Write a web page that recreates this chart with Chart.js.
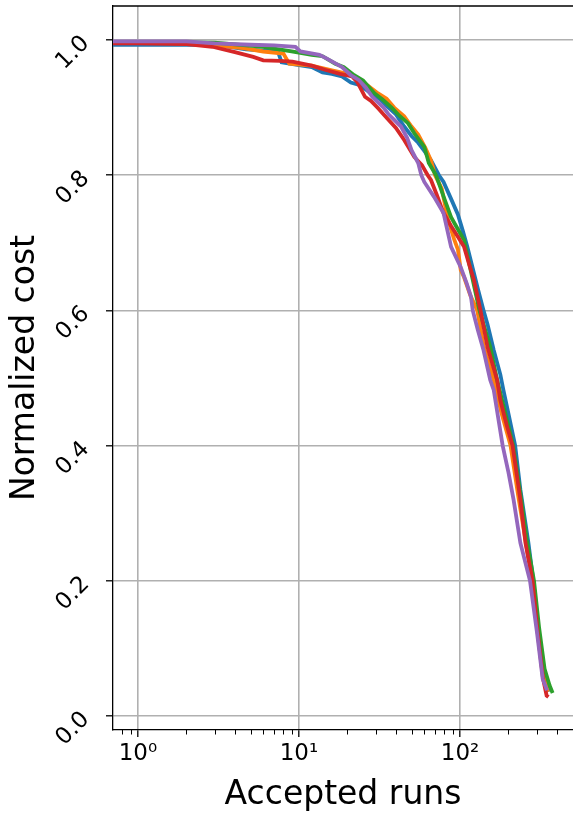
<!DOCTYPE html>
<html>
<head>
<meta charset="utf-8">
<script src="https://cdn.jsdelivr.net/npm/chart.js@4.4.1/dist/chart.umd.min.js"></script>
<style>
  html, body { margin: 0; padding: 0; background: #fff; overflow: hidden; }
  #wrap { width: 573px; height: 815px; position: relative; }
</style>
</head>
<body>
<div id="wrap"><canvas id="costChart"></canvas></div>
<script>
// Datos (eje x logarítmico: ejecuciones aceptadas)
const blueRuns   = [0.5, 1, 3, 4.7, 7.4, 7.8, 10, 12, 14, 16, 18.5, 21, 24, 28, 32, 36, 40, 45, 50, 55, 60, 66, 74, 79, 88, 97, 104, 111, 120, 129, 140, 148, 162, 178, 186, 200, 220, 237, 266, 285, 305, 330, 355];
const blueCost   = [0.993, 0.993, 0.993, 0.986, 0.983, 0.967, 0.963, 0.960, 0.952, 0.950, 0.946, 0.937, 0.933, 0.921, 0.912, 0.900, 0.890, 0.872, 0.858, 0.848, 0.836, 0.822, 0.800, 0.790, 0.765, 0.742, 0.718, 0.694, 0.662, 0.632, 0.600, 0.580, 0.541, 0.505, 0.482, 0.447, 0.400, 0.335, 0.256, 0.200, 0.130, 0.065, 0.036];

const orangeRuns = [0.5, 1, 2, 3, 4.5, 6, 8, 8.7, 12, 16, 20, 23.5, 27, 31, 35, 39, 45, 50, 55, 61, 66, 70, 77, 84, 92, 97, 101, 106, 116, 128, 140, 162, 180, 206, 230, 255, 280, 300, 325, 352];
const orangeCost = [0.996, 0.996, 0.995, 0.992, 0.988, 0.983, 0.980, 0.965, 0.962, 0.955, 0.950, 0.941, 0.932, 0.921, 0.913, 0.900, 0.887, 0.872, 0.860, 0.840, 0.822, 0.800, 0.780, 0.735, 0.705, 0.690, 0.660, 0.649, 0.622, 0.600, 0.548, 0.497, 0.450, 0.400, 0.325, 0.260, 0.200, 0.140, 0.065, 0.036];

const greenRuns  = [0.5, 1, 3, 6, 9, 12, 14, 16.8, 19, 22, 25, 29.5, 33, 37.6, 42, 47.5, 52, 60, 64, 71, 80, 88, 97, 106, 115, 129, 132, 154, 170, 190, 214, 240, 260, 288, 310, 335, 360, 376];
const greenCost  = [0.997, 0.997, 0.996, 0.990, 0.983, 0.978, 0.976, 0.965, 0.960, 0.948, 0.940, 0.921, 0.912, 0.900, 0.888, 0.877, 0.862, 0.842, 0.818, 0.800, 0.765, 0.738, 0.720, 0.704, 0.665, 0.611, 0.600, 0.546, 0.497, 0.450, 0.400, 0.320, 0.260, 0.200, 0.130, 0.070, 0.045, 0.034];

const redRuns    = [0.5, 1, 2, 2.9, 4, 5.2, 6, 7.6, 9.1, 12, 14.5, 18, 21.4, 23, 25.7, 28, 31, 35, 40, 45, 52, 58, 63, 66, 72, 79, 88, 97, 106, 114, 122, 134, 148, 170, 178, 195, 212, 237, 255, 282, 303, 328, 345, 354];
const redCost    = [0.995, 0.995, 0.994, 0.990, 0.982, 0.975, 0.970, 0.969, 0.968, 0.962, 0.956, 0.950, 0.946, 0.938, 0.916, 0.910, 0.899, 0.885, 0.870, 0.852, 0.827, 0.815, 0.800, 0.793, 0.770, 0.744, 0.725, 0.709, 0.694, 0.668, 0.645, 0.600, 0.546, 0.497, 0.467, 0.430, 0.400, 0.320, 0.256, 0.200, 0.125, 0.055, 0.030, 0.028];

const purpleRuns = [0.5, 1, 2, 3, 5, 7, 9.5, 10.2, 13.4, 15, 18.5, 21, 23.5, 26, 28.5, 33.5, 36, 43, 47, 50, 55, 57.5, 60, 69, 79, 88, 101, 110, 117, 120, 129, 140, 154, 162, 184, 200, 215, 237, 272, 300, 326, 347];
const purpleCost = [0.998, 0.998, 0.998, 0.995, 0.993, 0.992, 0.990, 0.983, 0.978, 0.972, 0.960, 0.948, 0.941, 0.930, 0.916, 0.900, 0.890, 0.872, 0.855, 0.837, 0.818, 0.800, 0.790, 0.768, 0.744, 0.694, 0.664, 0.640, 0.620, 0.600, 0.571, 0.541, 0.497, 0.482, 0.400, 0.360, 0.320, 0.256, 0.200, 0.125, 0.055, 0.038];

const xMajorTicks = [1, 10, 100];
const xTickLabels = ['10⁰', '10¹', '10²'];
const xMinorTicks = [0.8, 0.9, 2, 3, 4, 5, 6, 7, 8, 9, 20, 30, 40, 50, 60, 70, 80, 90, 200, 300, 400, 500];
const yTicks = [0, 0.2, 0.4, 0.6, 0.8, 1.0];

const FONT = 'DejaVu Sans';

function toPoints(runs, cost) {
    return runs.map((r, i) => ({ x: r, y: cost[i] }));
}

// Marco superior y marcas menores del eje x
const framePlugin = {
    id: 'frame',
    afterDraw(chart) {
        const ctx = chart.ctx;
        const area = chart.chartArea;
        const xScale = chart.scales.x;
        ctx.save();
        ctx.strokeStyle = '#000';
        ctx.lineWidth = 1.3;
        ctx.beginPath();
        ctx.moveTo(area.left, area.top);
        ctx.lineTo(area.right + 2, area.top);
        ctx.stroke();
        ctx.lineWidth = 1;
        xMinorTicks.forEach(v => {
            if (v < xScale.min || v > xScale.max) return;
            const px = Math.round(xScale.getPixelForValue(v)) + 0.5;
            ctx.beginPath();
            ctx.moveTo(px, area.bottom);
            ctx.lineTo(px, area.bottom + 4.5);
            ctx.stroke();
        });
        ctx.restore();
    }
};

const series = [
    { label: 'run 1', runs: blueRuns,   cost: blueCost,   color: '#1f77b4', order: 5 },
    { label: 'run 2', runs: orangeRuns, cost: orangeCost, color: '#ff7f0e', order: 4 },
    { label: 'run 3', runs: greenRuns,  cost: greenCost,  color: '#2ca02c', order: 3 },
    { label: 'run 4', runs: redRuns,    cost: redCost,    color: '#d62728', order: 2 },
    { label: 'run 5', runs: purpleRuns, cost: purpleCost, color: '#9467bd', order: 1 }
];

new Chart(document.getElementById('costChart'), {
    type: 'line',
    data: {
        datasets: series.map(s => ({
            label: s.label,
            data: toPoints(s.runs, s.cost),
            borderColor: s.color,
            backgroundColor: s.color,
            borderWidth: 3.8,
            pointRadius: 0,
            tension: 0,
            fill: false,
            order: s.order
        }))
    },
    options: {
        responsive: true,
        maintainAspectRatio: false,
        animation: false,
        layout: { padding: { top: 6, right: 0, left: 0, bottom: 0 } },
        plugins: {
            legend: { display: false },
            tooltip: { enabled: false }
        },
        scales: {
            x: {
                type: 'logarithmic',
                min: 0.743,
                max: 503,
                afterBuildTicks: scale => {
                    scale.ticks = xMajorTicks.map(v => ({ value: v, major: true }));
                },
                afterFit: scale => {
                    scale.height = 85;
                    scale.paddingLeft = 0;
                    scale.paddingRight = 0;
                },
                grid: {
                    color: '#b0b0b0',
                    lineWidth: 1.6,
                    tickColor: '#000',
                    tickLength: 7,
                    tickWidth: 1.3
                },
                border: { display: true, color: '#000', width: 1.3 },
                ticks: {
                    autoSkip: false,
                    maxRotation: 0,
                    minRotation: 0,
                    padding: 3,
                    color: '#000',
                    font: { family: FONT, size: 23 },
                    callback: function(value) {
                        const i = xMajorTicks.indexOf(value);
                        return i >= 0 ? xTickLabels[i] : '';
                    }
                },
                title: {
                    display: true,
                    text: 'Accepted runs',
                    color: '#000',
                    font: { family: FONT, size: 33 },
                    padding: { top: 0, bottom: 0 }
                }
            },
            y: {
                min: -0.0207,
                max: 1.0503,
                afterBuildTicks: scale => {
                    scale.ticks = yTicks.map(v => ({ value: v }));
                },
                afterFit: scale => {
                    scale.width = 113;
                    scale.paddingTop = 0;
                    scale.paddingBottom = 0;
                },
                grid: {
                    color: '#b0b0b0',
                    lineWidth: 1.6,
                    tickColor: '#000',
                    tickLength: 7,
                    tickWidth: 1.3
                },
                border: { display: true, color: '#000', width: 1.3 },
                ticks: {
                    autoSkip: false,
                    minRotation: 45,
                    maxRotation: 45,
                    padding: 20,
                    color: '#000',
                    font: { family: FONT, size: 23 },
                    callback: function(value) {
                        return Number(value).toFixed(1);
                    }
                },
                title: {
                    display: true,
                    text: 'Normalized cost',
                    color: '#000',
                    font: { family: FONT, size: 33 },
                    padding: { top: 6, bottom: 0 }
                }
            }
        }
    },
    plugins: [framePlugin]
});
</script>
</body>
</html>
